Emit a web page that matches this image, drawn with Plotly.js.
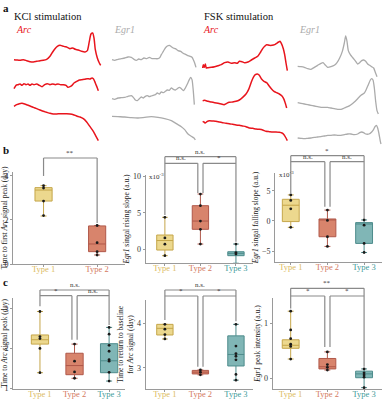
<!DOCTYPE html>
<html><head><meta charset="utf-8">
<script src="https://cdn.plot.ly/plotly-3.0.1.min.js"></script>
<style>html,body{margin:0;padding:0;background:#fff}</style>
</head><body><div id="chart" style="width:383px;height:400px"></div>
<script>
// ---------------- Panel a: signal traces (time, signal) ----------------
const kclArc1_t = [12,20,30,40,50,60,70,80,90,100,110,120,128,135,142,150,158,165,172,180,188,196,205,215,225,232,238,243,248,252,256,262,268,272];
const kclArc1_v = [259,258,257,259,256,253,252,254,256,257,260,269,282,292,299,302,300,298,296,292,294,290,288,284,282,286,314,336,339,324,289,264,249,242];
const kclArc2_t = [12,18,24,30,36,42,48,54,60,66,72,80,88,96,104,112,120,128,136,144,152,160,168,174,180,186,192,200,208,216,224,232,240,246,250,254,258,262,265];
const kclArc2_v = [172,182,184,186,182,187,184,186,182,186,184,186,182,178,184,187,184,186,184,186,184,184,182,176,178,182,189,194,198,199,200,202,201,204,202,194,184,174,166];
const kclArc3_t = [12,20,28,36,44,52,60,70,80,90,100,110,120,130,140,150,160,170,180,190,200,210,220,230,240,250,258,265];
const kclArc3_v = [119,124,127,128,126,123,120,116,112,108,104,101,98,96,96,97,97,97,96,94,90,87,82,72,58,44,29,16];

const kclEgr1_t = [12,20,30,40,50,60,70,78,85,92,100,108,116,124,132,140,150,156,160,166,172,178,184,190,196,202,210,218,224,230,238,246,252,256,260,264];
const kclEgr1_v = [259,257,260,262,264,267,266,260,257,261,259,264,262,266,262,262,262,266,274,284,294,300,302,298,294,292,286,284,279,276,272,269,266,259,249,236];
const kclEgr2_t = [12,20,30,40,50,60,70,76,82,88,94,100,106,112,118,124,130,136,142,148,154,160,166,172,178,184,190,196,202,208,214,220,226,232,238,244,248,252,256,259];
const kclEgr2_v = [142,140,144,145,146,149,151,146,138,136,142,147,144,149,151,148,150,152,154,159,156,162,160,164,168,167,174,170,168,172,176,172,166,174,186,199,206,199,164,124];
const kclEgr3_t = [12,30,50,70,90,110,130,150,170,190,200,210,220,230,240,250,258,262];
const kclEgr3_v = [89,88,87,85,84,86,88,86,82,76,70,64,58,49,36,29,24,18];

const fskArc1_t = [14,16,19,22,25,30,40,50,60,70,80,90,100,110,118,124,132,140,150,160,170,180,188,194,200,206,214,222,230,236,242,246,250,256,260,264,268];
const fskArc1_v = [234,244,236,246,234,235,236,238,241,244,250,252,248,250,248,254,253,250,252,258,264,270,282,292,299,304,302,302,304,308,312,314,308,292,274,249,226];
const fskArc2_t = [14,20,30,40,50,60,70,78,86,94,104,114,124,134,144,152,160,166,172,178,184,190,198,206,212,220,228,236,244,252,258,262,266];
const fskArc2_v = [136,137,134,132,130,128,126,124,128,131,132,134,138,146,156,170,192,206,214,216,212,202,194,190,182,172,164,160,156,150,140,128,114];
const fskArc3_t = [14,18,22,28,34,44,54,64,74,84,94,104,114,124,134,144,154,164,174,184,194,204,214,224,234,244,252,258,264,268];
const fskArc3_v = [74,72,69,74,76,75,74,72,70,68,67,65,63,62,60,58,54,53,51,50,48,44,43,42,42,41,39,34,24,16];

const fskEgr1_t = [14,24,34,44,54,64,74,84,90,96,104,114,124,132,140,148,154,158,162,166,172,180,188,194,200,206,212,218,224,230,236,242,248,252];
const fskEgr1_v = [239,238,236,232,230,236,242,248,250,244,236,238,242,250,264,284,309,330,314,286,274,264,254,246,250,256,258,254,246,242,238,234,218,208];
const fskEgr2_t = [14,24,34,44,54,64,74,84,94,104,114,124,134,144,154,164,174,184,194,204,214,220,226,232,236,240,244,248,252,256];
const fskEgr2_v = [130,128,126,124,122,120,118,116,116,116,114,112,110,110,114,118,124,132,142,152,159,170,184,198,202,198,174,134,106,96];
const fskEgr3_t = [14,24,34,44,54,64,74,84,94,104,114,124,134,144,154,164,174,184,194,200,206,212,218,228,236,242,246,250,254,258,262,264];
const fskEgr3_v = [24,23,22,23,24,26,27,28,30,32,32,33,32,32,34,36,36,34,36,40,42,40,36,36,42,50,58,62,54,36,14,6];

// ---------------- Box panels ----------------
const cats2 = ['Type 1','Type 2'];
const cats3 = ['Type 1','Type 2','Type 3'];

// b1: time to first Arc signal peak (day)
const b1_q1 = [2.86, 0.56], b1_med = [3.36, 0.91], b1_q3 = [3.47, 1.73], b1_lo = [2.18, 0.41], b1_hi = [3.56, 1.75];
const b1_pts = [[3.56, 3.45, 2.86, 2.20], [1.75, 0.97, 0.56, 0.41]];
const b1_sig = ['**'];
// b2: Egr1 rising slope (x10^-3)
const b2_q1 = [-0.10, 2.73, -0.87], b2_med = [1.20, 3.86, -0.55], b2_q3 = [1.95, 5.96, -0.33], b2_lo = [-0.87, 0.72, -1.90], b2_hi = [4.37, 7.55, 0.72];
const b2_pts = [[4.37, 1.55, 0.70, -0.87], [7.55, 5.96, 3.86, 2.73, 0.72], [0.72, -0.45, -0.65, -1.90]];
const b2_sig = ['n.s.', 'n.s.', '*'];
// b3: Egr1 falling slope (x10^-3)
const b3_q1 = [-0.10, -2.60, -3.70], b3_med = [2.60, 0.20, -0.50], b3_q3 = [3.58, 0.33, -0.27], b3_lo = [-1.05, -4.20, -5.20], b3_hi = [4.30, 1.80, 0.17];
const b3_pts = [[4.30, 3.40, 2.00, -1.05], [1.80, 0.10, -2.60, -4.20], [0.17, -0.70, -3.70, -5.20]];
const b3_sig = ['*', 'n.s.', 'n.s.'];
// c1: time to Arc signal peak (day)
const c1_q1 = [2.11, 1.34, 1.39], c1_med = [2.22, 1.57, 1.69], c1_q3 = [2.34, 1.88, 2.12], c1_lo = [1.39, 1.25, 1.18], c1_hi = [2.93, 2.11, 2.53];
const c1_pts = [[2.93, 2.30, 2.25, 2.00, 1.39], [2.11, 1.68, 1.41, 1.25], [2.53, 2.36, 2.08, 1.93, 1.72, 1.68, 1.40, 1.18]];
const c1_sig = ['n.s.', '*', 'n.s.'];
// c2: time to return to baseline for Arc signal (day)
const c2_q1 = [3.74, 2.86, 3.04], c2_med = [3.89, 2.90, 3.30], c2_q3 = [3.98, 2.94, 3.72], c2_lo = [3.65, 2.84, 2.72], c2_hi = [3.98, 2.95, 3.98];
const c2_pts = [[3.98, 3.87, 3.75, 3.65], [2.95, 2.90, 2.84], [3.98, 3.49, 3.32, 3.26, 3.18, 2.85, 2.72]];
const c2_sig = ['n.s.', '*', '*'];
// c3: Egr1 peak intensity (a.u.)
const c3_q1 = [0.545, 0.17, 0.01], c3_med = [0.60, 0.21, 0.08], c3_q3 = [0.70, 0.36, 0.13], c3_lo = [0.35, 0.15, -0.17], c3_hi = [1.22, 0.48, 0.17];
const c3_pts = [[1.22, 0.88, 0.72, 0.62, 0.58, 0.35], [0.48, 0.25, 0.20, 0.15], [0.17, 0.10, 0.06, 0.02, -0.17]];
const c3_sig = ['**', '*', '*'];

// ---------------- styles & geometry ----------------
const W = 383, H = 400;
const SERIF = 'Liberation Serif, Times New Roman, serif';
const RED = '#e8141c', GREY = '#ababab';
const typeFill = ['#ecd88e', '#d8846c', '#80b6b6'];
const typeLine = ['#c5a64a', '#b0584a', '#4e8c8c'];
const typeText = ['#dcbb62', '#d47a60', '#3f9c9a'];

const traces = [];
const layout = {
  width: W, height: H, margin: {l: 0, r: 0, t: 0, b: 0},
  paper_bgcolor: '#fff', plot_bgcolor: 'rgba(0,0,0,0)',
  showlegend: false, boxmode: 'overlay',
  font: {family: SERIF, color: '#222'},
  shapes: [], annotations: []
};

// panel a: four column sub-plots
const colAxes = [
  {px: [10, 105], tr: [0, 285], series: [[kclArc1_t, kclArc1_v], [kclArc2_t, kclArc2_v], [kclArc3_t, kclArc3_v]], color: RED, w: 1.5},
  {px: [108, 200], tr: [0, 276], series: [[kclEgr1_t, kclEgr1_v], [kclEgr2_t, kclEgr2_v], [kclEgr3_t, kclEgr3_v]], color: GREY, w: 1.3},
  {px: [198, 292], tr: [0, 282], series: [[fskArc1_t, fskArc1_v], [fskArc2_t, fskArc2_v], [fskArc3_t, fskArc3_v]], color: RED, w: 1.5},
  {px: [293, 383], tr: [0, 270], series: [[fskEgr1_t, fskEgr1_v], [fskEgr2_t, fskEgr2_v], [fskEgr3_t, fskEgr3_v]], color: GREY, w: 1.3}
];
colAxes.forEach((c, i) => {
  const n = i + 1;
  layout['xaxis' + n] = {domain: [c.px[0] / W, c.px[1] / W], range: c.tr, visible: false, anchor: 'y' + n, fixedrange: true};
  layout['yaxis' + n] = {domain: [1 - 146 / H, 1 - 28 / H], range: [0, 354], visible: false, anchor: 'x' + n, fixedrange: true};
  c.series.forEach(s => traces.push({type: 'scatter', mode: 'lines', x: s[0], y: s[1], xaxis: 'x' + n, yaxis: 'y' + n,
    line: {color: c.color, width: c.w, shape: 'spline', smoothing: 0.6}, hoverinfo: 'skip'}));
});

// box panels
const panels = [
  {n: 5, cats: cats2, q1: b1_q1, med: b1_med, q3: b1_q3, lo: b1_lo, hi: b1_hi, pts: b1_pts, sig: b1_sig,
   L: 13, R: 125, T: 172, B: 264, xr: [-0.57, 1.52], yr: [0, 4.18], tv: [0, 2, 4], bw: 0.32,
   title: 'Time to first <i>Arc</i> signal peak (day)', topPx: 158, lowPx: null, legs: [4.0, 1.86]},
  {n: 6, cats: cats3, q1: b2_q1, med: b2_med, q3: b2_q3, lo: b2_lo, hi: b2_hi, pts: b2_pts, sig: b2_sig,
   L: 145.7, R: 253, T: 175, B: 263, xr: [-0.54, 2.48], yr: [-1.87, 10.15], tv: [0, 5, 10], bw: 0.46,
   title: '<i>Egr1</i> singal rising slope (a.u.)', topPx: 156.7, lowPx: 163.3, legs: [4.69, 7.69, 1.04], sci: true},
  {n: 7, cats: cats3, q1: b3_q1, med: b3_med, q3: b3_q3, lo: b3_lo, hi: b3_hi, pts: b3_pts, sig: b3_sig,
   L: 275, R: 381.7, T: 173, B: 262, xr: [-0.43, 2.48], yr: [-6.77, 7.92], tv: [-5, 0, 5], bw: 0.46,
   title: '<i>Egr1</i> singal falling slope (a.u.)', topPx: 155.7, lowPx: 161.7, legs: [4.62, 2.36, 0.33], sci: true},
  {n: 8, cats: cats3, q1: c1_q1, med: c1_med, q3: c1_q3, lo: c1_lo, hi: c1_hi, pts: c1_pts, sig: c1_sig,
   L: 13, R: 125, T: 298, B: 389, xr: [-0.78, 2.46], yr: [0.98, 3.27], tv: [1, 2, 3], bw: 0.5,
   title: 'Time to <i>Arc</i> signal peak (day)', topPx: 290, lowPx: 295.7, legs: [3.06, 2.22, 2.59]},
  {n: 9, cats: cats3, q1: c2_q1, med: c2_med, q3: c2_q3, lo: c2_lo, hi: c2_hi, pts: c2_pts, sig: c2_sig,
   L: 145.7, R: 253, T: 300, B: 389, xr: [-0.54, 2.48], yr: [2.52, 4.53], tv: [3, 4], bw: 0.46,
   title: 'Time to return to baseline<br>for <i>Arc</i> signal (day)', topPx: 290, lowPx: 296, legs: [4.08, 3.02, 4.05]},
  {n: 10, cats: cats3, q1: c3_q1, med: c3_med, q3: c3_q3, lo: c3_lo, hi: c3_hi, pts: c3_pts, sig: c3_sig,
   L: 272.7, R: 381.7, T: 298, B: 389, xr: [-0.49, 2.48], yr: [-0.195, 1.46], tv: [0, 1], bw: 0.46,
   title: '<i>Egr1</i> peak intensity (a.u.)', topPx: 288.3, lowPx: 296, legs: [1.27, 0.57, 0.21]}
];

const AXC = '#9a9a9a';
const BR = '#8a8a8a';
panels.forEach(p => {
  const xa = 'x' + p.n, ya = 'y' + p.n;
  const idx = p.cats.map((c, i) => i);
  layout['xaxis' + p.n] = {
    domain: [p.L / W, p.R / W], range: p.xr, anchor: ya, showline: true, linecolor: AXC, linewidth: 1,
    ticks: 'outside', ticklen: 2, tickcolor: AXC, tickvals: idx, ticklabelstandoff: -5,
    ticktext: p.cats.map((c, i) => '<span style="color:' + typeText[i] + '">' + c + '</span>'),
    tickfont: {family: SERIF, size: 8.5}, showgrid: false, zeroline: false, fixedrange: true
  };
  layout['yaxis' + p.n] = {
    domain: [1 - p.B / H, 1 - p.T / H], range: p.yr, anchor: xa, showline: true, linecolor: AXC, linewidth: 1,
    ticks: 'outside', ticklen: 2, tickcolor: AXC, tickvals: p.tv, tickfont: {family: SERIF, size: 8, color: '#333'},
    showgrid: false, zeroline: false, fixedrange: true,
    title: {text: p.title, font: {family: SERIF, size: 7.5, color: '#222'}, standoff: 2}
  };
  idx.forEach(i => {
    traces.push({type: 'box', xaxis: xa, yaxis: ya, x: [i], q1: [p.q1[i]], median: [p.med[i]], q3: [p.q3[i]],
      lowerfence: [p.lo[i]], upperfence: [p.hi[i]], width: p.bw, whiskerwidth: 0.35, boxpoints: false,
      fillcolor: typeFill[i], line: {color: typeLine[i], width: 1}, hoverinfo: 'skip'});
    traces.push({type: 'scatter', mode: 'markers', xaxis: xa, yaxis: ya, x: p.pts[i].map(() => i), y: p.pts[i],
      marker: {size: 2.8, color: '#1a1a1a'}, hoverinfo: 'skip', cliponaxis: false});
  });

  // helpers for bracket positions (paper coordinates)
  const fx = v => (p.L + (v - p.xr[0]) / (p.xr[1] - p.xr[0]) * (p.R - p.L)) / W;
  const fy = v => 1 - (p.B - (v - p.yr[0]) / (p.yr[1] - p.yr[0]) * (p.B - p.T)) / H;
  const py = px => 1 - px / H;
  const line = (x0, y0, x1, y1) => layout.shapes.push({type: 'line', xref: 'paper', yref: 'paper', x0, y0, x1, y1,
    line: {color: BR, width: 1.2}});
  const label = (xc, yp, txt) => layout.annotations.push({xref: 'paper', yref: 'paper', x: xc, y: yp, text: txt,
    showarrow: false, xanchor: 'center', yanchor: 'bottom', yshift: -1, font: {family: SERIF, size: 7, color: '#333'}});

  if (p.cats.length === 2) {
    const yT = py(p.topPx);
    line(fx(0), yT, fx(1), yT);
    line(fx(0), yT, fx(0), fy(p.legs[0]));
    line(fx(1), yT, fx(1), fy(p.legs[1]));
    label((fx(0) + fx(1)) / 2, yT, p.sig[0]);
  } else {
    const yT = py(p.topPx), yL = py(p.lowPx);
    const d = 2.6 / W;
    line(fx(0), yT, fx(2), yT);
    line(fx(0), yT, fx(0), fy(p.legs[0]));
    line(fx(2), yT, fx(2), fy(p.legs[2]));
    line(fx(0), yL, fx(1) - d, yL);
    line(fx(1) - d, yL, fx(1) - d, fy(p.legs[1]));
    line(fx(1) + d, yL, fx(2), yL);
    line(fx(1) + d, yL, fx(1) + d, fy(p.legs[1]));
    label((fx(0) + fx(2)) / 2, yT, p.sig[0]);
    label((fx(0) + fx(1) - d) / 2, yL, p.sig[1]);
    label((fx(1) + d + fx(2)) / 2, yL, p.sig[2]);
  }
  if (p.sci) {
    layout.annotations.push({xref: 'paper', yref: 'paper', x: (p.L + 1.5) / W, y: fy(p.tv[p.tv.length - 1]) + (p.n === 7 ? 0.04 : 0),
      text: 'x10<sup>-3</sup>', showarrow: false, xanchor: 'left', yanchor: 'middle', font: {family: SERIF, size: 7, color: '#333'}});
  }
});

// panel letters and headings
const txt = (x, y, t, size, color, extra) => layout.annotations.push(Object.assign({xref: 'paper', yref: 'paper',
  x: x / W, y: 1 - y / H, text: t, showarrow: false, xanchor: 'left', yanchor: 'middle',
  font: {family: SERIF, size: size, color: color}}, extra || {}));
txt(1, 8, '<b>a</b>', 11, '#111');
txt(1, 150, '<b>b</b>', 11, '#111');
txt(1, 282, '<b>c</b>', 11, '#111');
txt(12, 17, 'KCl stimulation', 10.5, '#111');
txt(202, 17, 'FSK stimulation', 10.5, '#111');
txt(14, 29, '<i>Arc</i>', 10, RED);
txt(112, 29, '<i>Egr1</i>', 10, GREY);
txt(201, 29, '<i>Arc</i>', 10, RED);
txt(297, 29, '<i>Egr1</i>', 10, GREY);

Plotly.newPlot('chart', traces, layout, {staticPlot: true, displayModeBar: false});
</script></body></html>
